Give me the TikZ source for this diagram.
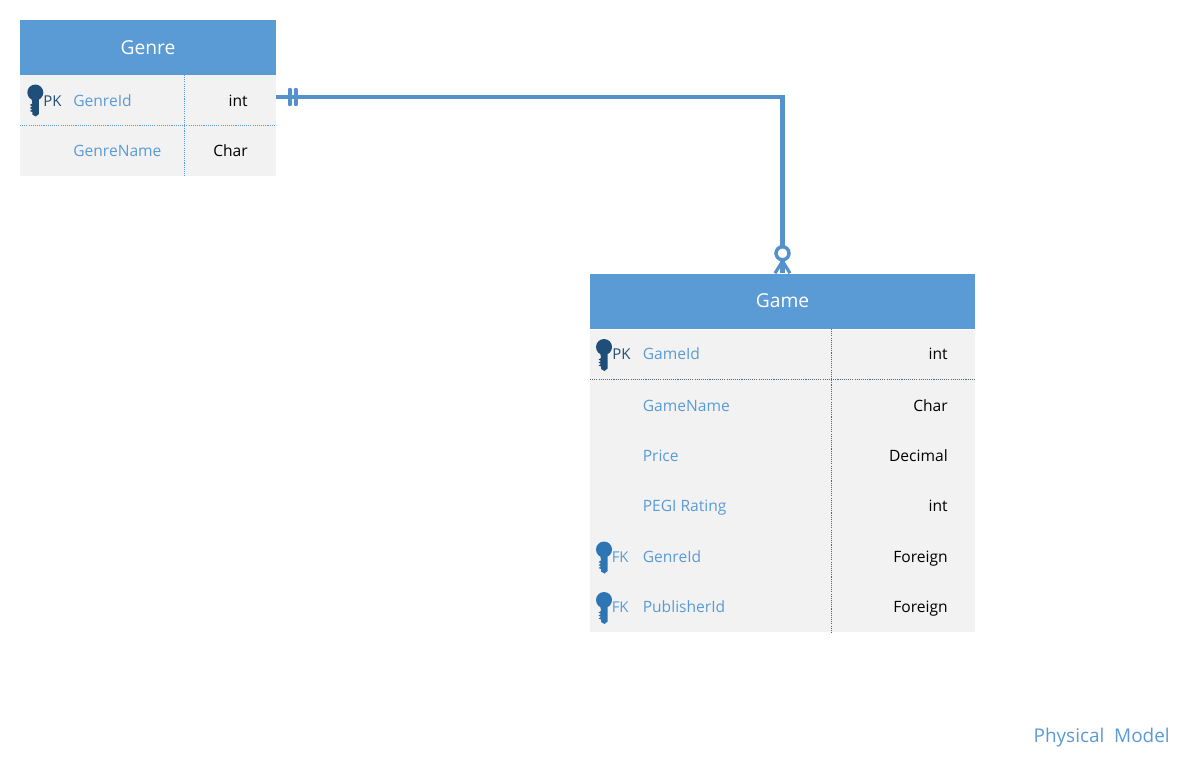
\documentclass[tikz,border=0pt]{standalone}
\usepackage{fontspec}
\setmainfont{Open Sans}
\definecolor{hdr}{HTML}{5B9BD5}
\definecolor{rowbg}{HTML}{F2F2F2}
\definecolor{conn}{HTML}{5591CB}
\definecolor{pkkey}{HTML}{1F4E79}
\definecolor{fkkey}{HTML}{2E75B6}
\definecolor{dotdark}{HTML}{5A6472}
\tikzset{
  x=0.75pt,y=-0.75pt,
  header/.style={fill=hdr,draw=none,inner sep=0pt,minimum height=41.25pt,text=white,font=\fontsize{14.4}{17}\selectfont},
  body/.style={fill=rowbg,draw=none,inner sep=0pt},
  fieldname/.style={anchor=base west,inner sep=0pt,text=hdr,font=\fontsize{11.7}{14}\selectfont},
  fieldtype/.style={anchor=base east,inner sep=0pt,text=black,font=\fontsize{11.7}{14}\selectfont},
  keytag/.style={anchor=base west,inner sep=0pt,font=\fontsize{11.2}{14}\selectfont},
  link/.style={draw=conn,line width=3.1pt},
  dotblue/.style={draw=hdr,line width=0.6pt,dash pattern=on 0.8pt off 0.8pt},
  dotgrey/.style={draw=dotdark,line width=0.6pt,dash pattern=on 0.8pt off 0.8pt},
}
\newcommand{\keyicon}[3]{% x, y of head centre, colour
  \fill[#3,shift={(#1,#2)}] (0,0) circle[radius=8]
    (-4,5) -- (3.6,5) -- (3.6,21.5) -- (0.5,24) -- (-3,22) -- (-3,19.5) -- (-5.5,18.5) -- (-3,17) -- (-5.5,15.5) -- (-3,14) -- (-5.5,12.5) -- (-3,11) -- cycle;
}
\begin{document}
\begin{tikzpicture}
\useasboundingbox (0,0) rectangle (1194,776);
% Genre table
\node[body,minimum width=192pt,minimum height=75.75pt] (genrebody) at (148,125) {};
\node[header,minimum width=192pt] (genre) at (148,47.5) {Genre};
\draw[dotblue] (184.5,75) -- (184.5,176);
\draw[dotblue] (20,125.5) -- (276,125.5);
\keyicon{35.3}{92.5}{pkkey}
\node[keytag,text=pkkey] (t1) at (43,106) {PK};
\node[fieldname] (t2) at (73,106) {GenreId};
\node[fieldtype] (t3) at (248,106) {int};
\node[fieldname] (t4) at (73,156) {GenreName};
\node[fieldtype] (t5) at (248,156) {Char};
% Game table
\node[body,minimum width=288.75pt,minimum height=226.5pt] (gamebody) at (782.5,480.5) {};
\node[header,minimum width=288.75pt] (game) at (782.5,301) {Game};
\draw[dotgrey] (831.5,329) -- (831.5,632);
\draw[dotgrey] (590,379.5) -- (975,379.5);
\keyicon{604}{347}{pkkey}
\node[keytag,text=pkkey] (g1) at (612,359) {PK};
\node[fieldname] (g2) at (642.5,359) {GameId};
\node[fieldtype] (g3) at (948,359) {int};
\node[fieldname] (g4) at (642.5,411) {GameName};
\node[fieldtype] (g5) at (948,411) {Char};
\node[fieldname] (g6) at (642.5,461) {Price};
\node[fieldtype] (g7) at (948,461) {Decimal};
\node[fieldname] (g8) at (642.5,511) {PEGI Rating};
\node[fieldtype] (g9) at (948,511) {int};
\keyicon{604}{549.5}{fkkey}
\node[keytag,text=hdr] (g10) at (611.5,562) {FK};
\node[fieldname] (g11) at (642.5,562) {GenreId};
\node[fieldtype] (g12) at (948,562) {Foreign};
\keyicon{604}{600}{fkkey}
\node[keytag,text=hdr] (g13) at (611.5,612) {FK};
\node[fieldname] (g14) at (642.5,612) {PublisherId};
\node[fieldtype] (g15) at (948,612) {Foreign};
% Connector
\coordinate (port) at (genre.south east |- 0,97);
\draw[link] (port) -| (game.north);
% one-and-only-one end
\draw[link,line width=2.6pt,line cap=round] ([xshift=13.5*0.75pt,yshift=7.5*0.75pt]port) -- ([xshift=13.5*0.75pt,yshift=-7.5*0.75pt]port);
\draw[link,line width=2.6pt,line cap=round] ([xshift=19.5*0.75pt,yshift=7.5*0.75pt]port) -- ([xshift=19.5*0.75pt,yshift=-7.5*0.75pt]port);
% zero-or-many end
\draw[link,line width=2.4pt] ([yshift=12*0.75pt]game.north) -- ([xshift=-7.5*0.75pt]game.north);
\draw[link,line width=2.4pt] ([yshift=12*0.75pt]game.north) -- ([xshift=7.5*0.75pt]game.north);
\draw[link,line width=2.6pt,fill=white] ([yshift=20*0.75pt]game.north) circle[radius=6.5];
\node[anchor=base east,inner sep=0pt,text=hdr,font=\fontsize{14.2}{17}\selectfont] (title) at (1170,742) {Physical~~Model};
\end{tikzpicture}
\end{document}
